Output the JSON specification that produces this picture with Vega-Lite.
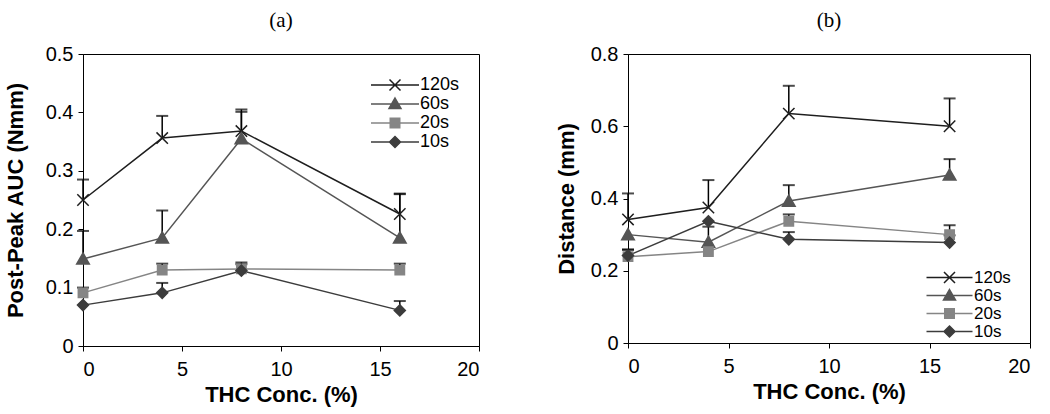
{
  "$schema": "https://vega.github.io/schema/vega-lite/v6.json",
  "padding": {"left": 3, "top": 9, "right": 5, "bottom": 5},
  "background": "white",
  "bounds": "flush",
  "spacing": 149,
  "config": {
    "view": {"stroke": "black", "strokeWidth": 1},
    "font": "Liberation Sans",
    "axis": {
      "grid": false, "domainColor": "black", "tickColor": "black", "tickSize": 5,
      "labelFont": "Liberation Sans", "labelFontSize": 20, "labelColor": "black", "labelPadding": 5,
      "titleFont": "Liberation Sans", "titleFontSize": 22, "titleFontWeight": "bold", "titleColor": "black"
    },
    "axisX": {"labelPadding": 8},
    "legend": {"labelFont": "Liberation Sans", "labelFontSize": 18, "labelColor": "black", "symbolSize": 100, "symbolStrokeWidth": 1.5, "symbolOpacity": 1, "padding": 0, "rowPadding": 0, "title": null},
    "title": {"font": "Liberation Serif", "fontSize": 21, "fontWeight": "normal", "color": "black", "anchor": "middle", "offset": 13}
  },
  "datasets": {
    "a": [
      {"series": "120s", "x": 0, "y": 0.25, "hi": 0.285},
      {"series": "120s", "x": 4, "y": 0.356, "hi": 0.394},
      {"series": "120s", "x": 8, "y": 0.368, "hi": 0.405},
      {"series": "120s", "x": 16, "y": 0.226, "hi": 0.261},
      {"series": "60s", "x": 0, "y": 0.149, "hi": 0.197},
      {"series": "60s", "x": 4, "y": 0.185, "hi": 0.232},
      {"series": "60s", "x": 8, "y": 0.355, "hi": 0.401},
      {"series": "60s", "x": 16, "y": 0.185, "hi": 0.26},
      {"series": "20s", "x": 0, "y": 0.091, "hi": 0.1},
      {"series": "20s", "x": 4, "y": 0.13, "hi": 0.141},
      {"series": "20s", "x": 8, "y": 0.132, "hi": 0.143},
      {"series": "20s", "x": 16, "y": 0.13, "hi": 0.141},
      {"series": "10s", "x": 0, "y": 0.07, "hi": null},
      {"series": "10s", "x": 4, "y": 0.091, "hi": 0.108},
      {"series": "10s", "x": 8, "y": 0.129, "hi": 0.14},
      {"series": "10s", "x": 16, "y": 0.061, "hi": 0.077}
    ],
    "b": [
      {"series": "120s", "x": 0, "y": 0.342, "hi": 0.414},
      {"series": "120s", "x": 4, "y": 0.375, "hi": 0.451},
      {"series": "120s", "x": 8, "y": 0.635, "hi": 0.712},
      {"series": "120s", "x": 16, "y": 0.6, "hi": 0.677},
      {"series": "60s", "x": 0, "y": 0.3, "hi": null},
      {"series": "60s", "x": 4, "y": 0.279, "hi": 0.322},
      {"series": "60s", "x": 8, "y": 0.393, "hi": 0.437},
      {"series": "60s", "x": 16, "y": 0.465, "hi": 0.509},
      {"series": "20s", "x": 0, "y": 0.239, "hi": 0.259},
      {"series": "20s", "x": 4, "y": 0.253, "hi": null},
      {"series": "20s", "x": 8, "y": 0.337, "hi": 0.356},
      {"series": "20s", "x": 16, "y": 0.3, "hi": 0.326},
      {"series": "10s", "x": 0, "y": 0.242, "hi": 0.258},
      {"series": "10s", "x": 4, "y": 0.337, "hi": null},
      {"series": "10s", "x": 8, "y": 0.287, "hi": 0.307},
      {"series": "10s", "x": 16, "y": 0.278, "hi": 0.298}
    ]
  },
  "hconcat": [
    {
      "title": "(a)",
      "width": 396,
      "height": 292,
      "data": {"name": "a"},
      "encoding": {
        "x": {"field": "x", "type": "quantitative", "scale": {"domain": [0, 20], "nice": false}, "axis": {"values": [0, 5, 10, 15, 20], "title": "THC Conc. (%)", "titlePadding": 5}},
        "y": {"field": "y", "type": "quantitative", "scale": {"domain": [0, 0.5], "nice": false}, "axis": {"values": [0, 0.1, 0.2, 0.3, 0.4, 0.5], "format": "~g", "title": "Post-Peak AUC (Nmm)", "titlePadding": 18}}
      },
      "layer": [
        {
          "transform": [{"filter": "datum.hi != null"}],
          "mark": {"type": "rule", "color": "black", "strokeWidth": 1.5},
          "encoding": {"y2": {"field": "hi"}}
        },
        {
          "transform": [{"filter": "datum.hi != null"}],
          "mark": {"type": "tick", "orient": "horizontal", "color": "black", "size": 12, "thickness": 2},
          "encoding": {"y": {"field": "hi", "type": "quantitative"}}
        },
        {
          "encoding": {
            "color": {"field": "series", "type": "nominal", "scale": {"domain": ["120s", "60s", "20s", "10s"], "range": ["#1e1e1e", "#555555", "#858585", "#3c3c3c"]}, "legend": null}
          },
          "layer": [
            {"mark": {"type": "line", "strokeWidth": 1.5}, "encoding": {}},
            {
              "mark": {"type": "point", "filled": true, "opacity": 1, "size": 144, "strokeWidth": 1.5},
              "encoding": {
                "stroke": {"field": "series", "type": "nominal", "scale": {"domain": ["120s", "60s", "20s", "10s"], "range": ["#1e1e1e", "#555555", "#858585", "#3c3c3c"]}, "legend": null},
                "shape": {"field": "series", "type": "nominal", "scale": {"domain": ["120s", "60s", "20s", "10s"], "range": ["M-0.95,-0.95L0.95,0.95M-0.95,0.95L0.95,-0.95", "M0,-1L1.05,0.85L-1.05,0.85Z", "M-0.78,-0.78L0.78,-0.78L0.78,0.78L-0.78,0.78Z", "M0,-0.92L0.92,0L0,0.92L-0.92,0Z"]}, "legend": null}
              }
            }
          ]
        },
        {
          "transform": [{"filter": "datum.x < -100"}],
          "mark": {"type": "point", "filled": true, "opacity": 1, "strokeWidth": 1.5},
          "encoding": {
            "color": {"field": "series", "type": "nominal", "scale": {"domain": ["120s", "60s", "20s", "10s"], "range": ["#1e1e1e", "#555555", "#858585", "#3c3c3c"]},
              "legend": {"orient": "none", "legendX": 303, "legendY": 22, "labelOffset": 16, "rowPadding": 1}},
            "stroke": {"field": "series", "type": "nominal", "scale": {"domain": ["120s", "60s", "20s", "10s"], "range": ["#1e1e1e", "#555555", "#858585", "#3c3c3c"]},
              "legend": {"orient": "none", "legendX": 303, "legendY": 22, "labelOffset": 16, "rowPadding": 1}},
            "shape": {"field": "series", "type": "nominal", "scale": {"domain": ["120s", "60s", "20s", "10s"], "range": ["M-4.8,0L4.8,0M-1.1,-1.1L1.1,1.1M-1.1,1.1L1.1,-1.1", "M-4.8,0L4.8,0M0,-1.2L1.2,0.9L-1.2,0.9Z", "M-4.8,0L4.8,0M-0.95,-0.95L0.95,-0.95L0.95,0.95L-0.95,0.95Z", "M-4.8,0L4.8,0M0,-1.1L1.1,0L0,1.1L-1.1,0Z"]},
              "legend": {"orient": "none", "legendX": 303, "legendY": 22, "labelOffset": 16, "rowPadding": 1}}
          }
        }
      ],
      "resolve": {"scale": {"color": "independent", "stroke": "independent", "shape": "independent"}}
    },
    {
      "title": "(b)",
      "width": 402,
      "height": 289,
      "data": {"name": "b"},
      "encoding": {
        "x": {"field": "x", "type": "quantitative", "scale": {"domain": [0, 20], "nice": false}, "axis": {"values": [0, 5, 10, 15, 20], "title": "THC Conc. (%)", "titlePadding": 5}},
        "y": {"field": "y", "type": "quantitative", "scale": {"domain": [0, 0.8], "nice": false}, "axis": {"values": [0, 0.2, 0.4, 0.6, 0.8], "format": "~g", "title": "Distance (mm)", "titlePadding": 12}}
      },
      "layer": [
        {
          "transform": [{"filter": "datum.hi != null"}],
          "mark": {"type": "rule", "color": "black", "strokeWidth": 1.5},
          "encoding": {"y2": {"field": "hi"}}
        },
        {
          "transform": [{"filter": "datum.hi != null"}],
          "mark": {"type": "tick", "orient": "horizontal", "color": "black", "size": 12, "thickness": 2},
          "encoding": {"y": {"field": "hi", "type": "quantitative"}}
        },
        {
          "encoding": {
            "color": {"field": "series", "type": "nominal", "scale": {"domain": ["120s", "60s", "20s", "10s"], "range": ["#1e1e1e", "#555555", "#858585", "#3c3c3c"]}, "legend": null}
          },
          "layer": [
            {"mark": {"type": "line", "strokeWidth": 1.5}, "encoding": {}},
            {
              "mark": {"type": "point", "filled": true, "opacity": 1, "size": 144, "strokeWidth": 1.5},
              "encoding": {
                "stroke": {"field": "series", "type": "nominal", "scale": {"domain": ["120s", "60s", "20s", "10s"], "range": ["#1e1e1e", "#555555", "#858585", "#3c3c3c"]}, "legend": null},
                "shape": {"field": "series", "type": "nominal", "scale": {"domain": ["120s", "60s", "20s", "10s"], "range": ["M-0.95,-0.95L0.95,0.95M-0.95,0.95L0.95,-0.95", "M0,-1L1.05,0.85L-1.05,0.85Z", "M-0.78,-0.78L0.78,-0.78L0.78,0.78L-0.78,0.78Z", "M0,-0.92L0.92,0L0,0.92L-0.92,0Z"]}, "legend": null}
              }
            }
          ]
        },
        {
          "transform": [{"filter": "datum.x < -100"}],
          "mark": {"type": "point", "filled": true, "opacity": 1, "strokeWidth": 1.5},
          "encoding": {
            "color": {"field": "series", "type": "nominal", "scale": {"domain": ["120s", "60s", "20s", "10s"], "range": ["#1e1e1e", "#555555", "#858585", "#3c3c3c"]},
              "legend": {"orient": "none", "legendX": 313, "legendY": 215, "labelOffset": 16, "rowPadding": 0, "labelFontSize": 17}},
            "stroke": {"field": "series", "type": "nominal", "scale": {"domain": ["120s", "60s", "20s", "10s"], "range": ["#1e1e1e", "#555555", "#858585", "#3c3c3c"]},
              "legend": {"orient": "none", "legendX": 313, "legendY": 215, "labelOffset": 16, "rowPadding": 0, "labelFontSize": 17}},
            "shape": {"field": "series", "type": "nominal", "scale": {"domain": ["120s", "60s", "20s", "10s"], "range": ["M-4.6,0L4.6,0M-1.1,-1.1L1.1,1.1M-1.1,1.1L1.1,-1.1", "M-4.6,0L4.6,0M0,-1.2L1.2,0.9L-1.2,0.9Z", "M-4.6,0L4.6,0M-0.95,-0.95L0.95,-0.95L0.95,0.95L-0.95,0.95Z", "M-4.6,0L4.6,0M0,-1.1L1.1,0L0,1.1L-1.1,0Z"]},
              "legend": {"orient": "none", "legendX": 313, "legendY": 215, "labelOffset": 16, "rowPadding": 0, "labelFontSize": 17}}
          }
        }
      ],
      "resolve": {"scale": {"color": "independent", "stroke": "independent", "shape": "independent"}}
    }
  ],
  "resolve": {"scale": {"x": "independent", "y": "independent", "color": "independent", "stroke": "independent", "shape": "independent"}, "legend": {"color": "independent", "stroke": "independent", "shape": "independent"}}
}
